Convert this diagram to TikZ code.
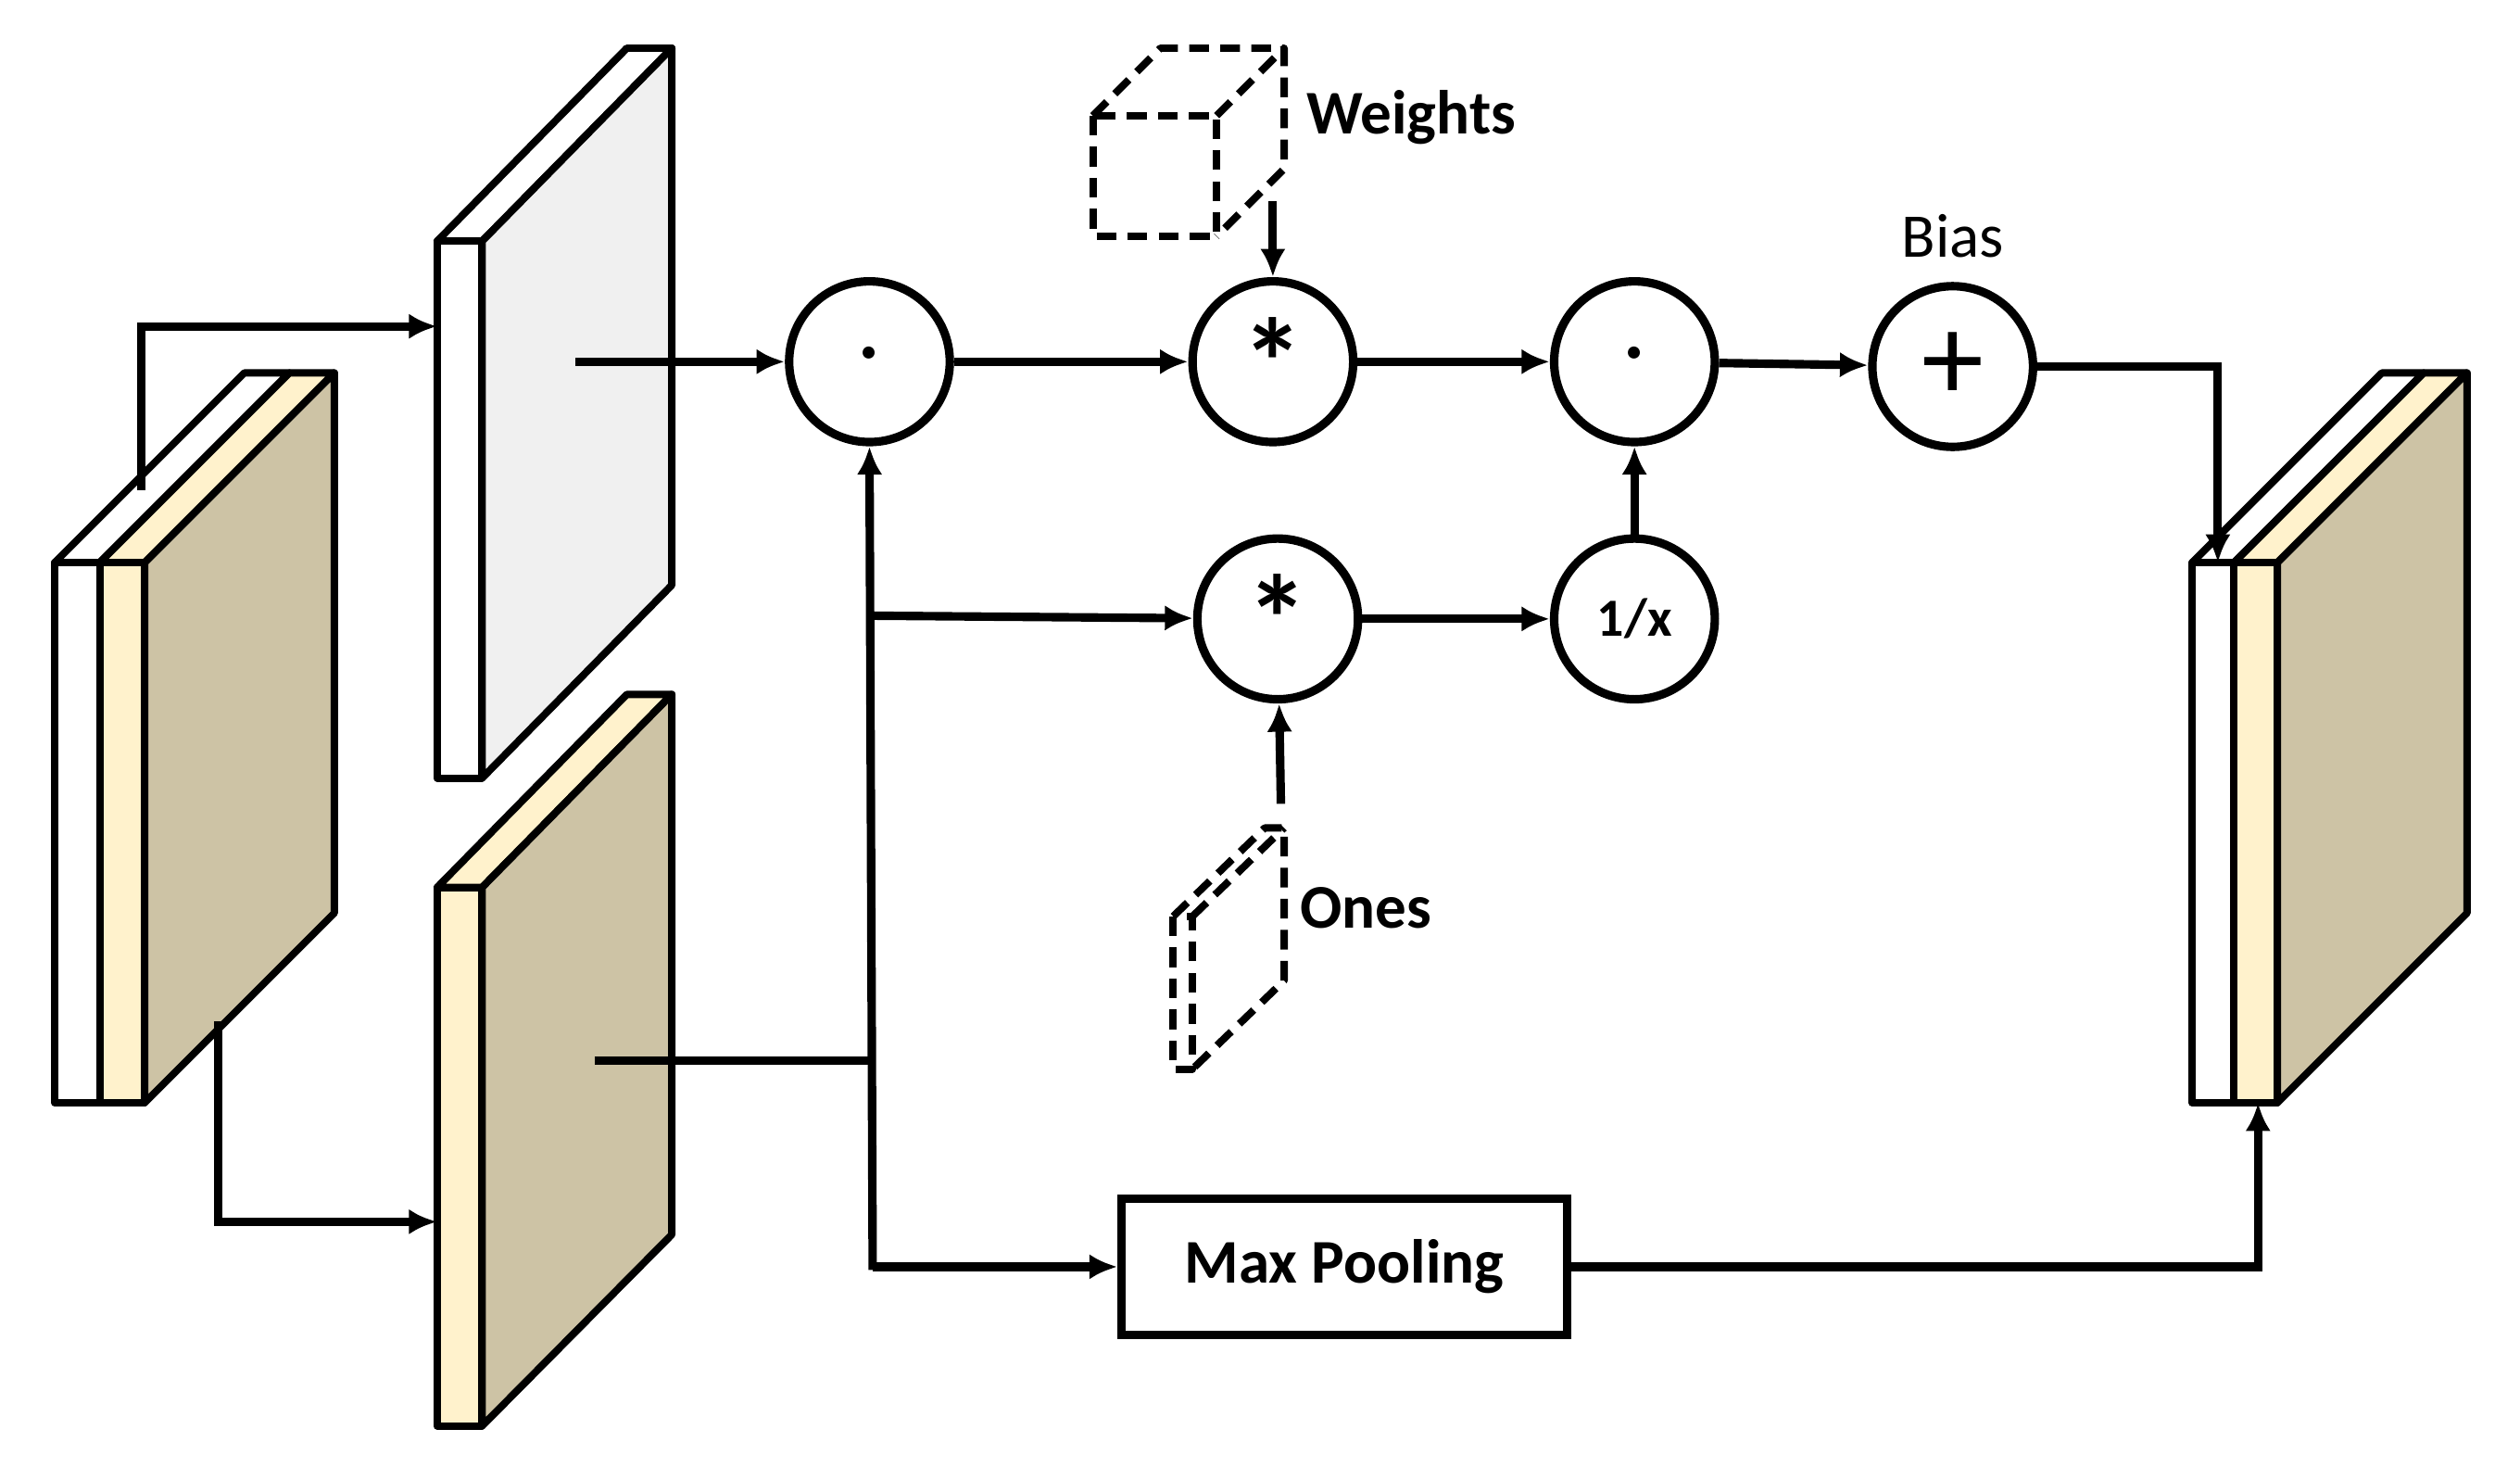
\documentclass[tikz,border=0pt]{standalone}
\usepackage{fontspec}
\setmainfont{Carlito}
\usetikzlibrary{arrows.meta,positioning}
\definecolor{cream}{HTML}{FFF2CC}
\definecolor{khaki}{HTML}{CDC3A5}
\definecolor{paper}{HTML}{F0F0F0}
\tikzset{
    %Define standard arrow tip
    >={Latex[length=10pt,width=9pt]},
    %Define style for operators
    op/.style={
           circle,
           draw=black, line width=3pt,
           minimum size=2cm,
           inner sep=0pt,
           font=\bfseries\fontsize{44}{44}\selectfont,
           text centered},
    box/.style={
           rectangle,
           draw=black, line width=3pt,
           minimum width=5.54cm,
           minimum height=1.7cm,
           font=\bfseries\fontsize{22}{22}\selectfont},
    lbl/.style={font=\bfseries\fontsize{22}{22}\selectfont},
    face/.style={draw=black, line width=2.6pt, line join=round},
    ghost/.style={dash pattern=on 7pt off 4pt},
    pil/.style={->, line width=3pt}
}
\begin{document}
\begin{tikzpicture}[x=0.02cm,y=-0.02cm]
\useasboundingbox (0,0) rectangle (1568,912);
 %input stack
\draw[face,fill=white] (34,350) -- (152,232) -- (180,232) -- (62,350) -- cycle;
\draw[face,fill=cream] (62,350) -- (180,232) -- (208,232) -- (90,350) -- cycle;
\draw[face,fill=khaki] (90,350) -- (208,232) -- (208,568) -- (90,686) -- cycle;
\draw[face,fill=white] (34,350) rectangle (62,686);
\draw[face,fill=cream] (62,350) rectangle (90,686);
\coordinate (intop) at (88,305);
\coordinate (inbot) at (136,635);
 %upper slab
\draw[face,fill=white] (272,150) -- (390,30) -- (418,30) -- (300,150) -- cycle;
\draw[face,fill=paper] (300,150) -- (418,30) -- (418,364) -- (300,484) -- cycle;
\draw[face,fill=white] (272,150) rectangle (300,484);
\coordinate (up) at (358,225);
 %lower slab
\draw[face,fill=cream] (272,552) -- (390,432) -- (418,432) -- (300,552) -- cycle;
\draw[face,fill=khaki] (300,552) -- (418,432) -- (418,768) -- (300,887) -- cycle;
\draw[face,fill=cream] (272,552) rectangle (300,887);
\coordinate (lo) at (370,660);
 %output stack
\draw[face,fill=white] (1364,350) -- (1482,232) -- (1508,232) -- (1390,350) -- cycle;
\draw[face,fill=cream] (1390,350) -- (1508,232) -- (1535,232) -- (1417,350) -- cycle;
\draw[face,fill=khaki] (1417,350) -- (1535,232) -- (1535,568) -- (1417,686) -- cycle;
\draw[face,fill=white] (1364,350) rectangle (1390,686);
\draw[face,fill=cream] (1390,350) rectangle (1417,686);
 %weights and ones
\draw[face,ghost] (680,72) rectangle (757,147);
\draw[face,ghost] (680,72) -- (722,30) -- (799,30) -- (799,105) -- (757,147);
\draw[face,ghost] (757,72) -- (799,30);
\node[lbl] (w) at (878,73) {Weights};
\draw[face,ghost] (730,570) rectangle (742,665);
\draw[face,ghost] (730,570) -- (787,515) -- (799,515) -- (799,610) -- (742,665);
\draw[face,ghost] (742,570) -- (799,515);
\node[lbl] (o) at (850,565) {Ones};
\coordinate (wt) at (792,125);
\coordinate (on) at (797,500);
 %nodes
\node[op,font=\fontsize{30}{30}\selectfont] (m1) at (541,225) {·};
\node[op] (c1) at (792,225) {\raisebox{-13pt}{*}};
\node[op,font=\fontsize{30}{30}\selectfont] (m2) at (1017,225) {·};
\node[op,font=\fontsize{44}{44}\selectfont] (add) at (1215,228) {+};
\node[op] (c2) at (795,385) {\raisebox{-13pt}{*}};
\node[op,font=\bfseries\fontsize{19}{19}\selectfont] (inv) at (1017,385) {1/x};
\node[font=\fontsize{22}{22}\selectfont] (b) at (1215,147) {Bias};
\node[box] (mp) at (836.5,788) {Max Pooling};
 %edges
\draw[pil] (intop) |- (272,203);
\draw[pil] (inbot) |- (272,760);
\draw[pil] (up) -- (m1);
\draw[line width=3pt] (lo) -- (543,660);
\draw[pil] (543,790) -- (m1.south);
\draw[pil] (543,383) -- (c2);
\draw[pil] (543,788) -- (mp);
\draw[pil] (m1) -- (c1);
\draw[pil] (c1) -- (m2);
\draw[pil] (m2) -- (add);
\draw[pil] (c2) -- (inv);
\draw[pil] (inv) -- (m2);
\draw[pil] (wt) -- (c1);
\draw[pil] (on) -- (c2);
\draw[pil] (add) -| (1380,350);
\draw[pil] (mp) -| (1405,686);
\end{tikzpicture}
\end{document}
